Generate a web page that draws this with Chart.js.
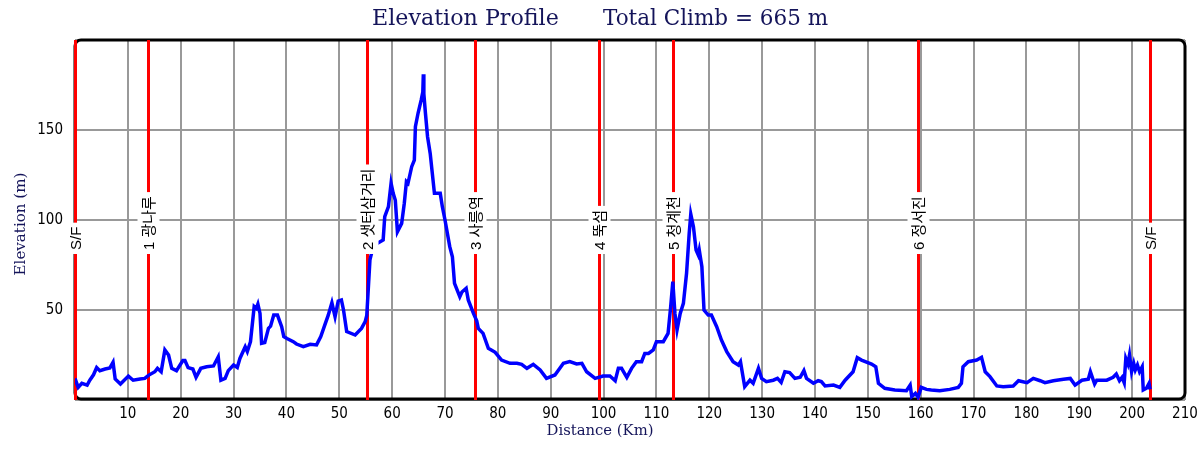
<!DOCTYPE html>
<html>
<head>
<meta charset="utf-8">
<script src="https://cdn.jsdelivr.net/npm/chart.js@4/dist/chart.umd.min.js"></script>
<style>
  html, body { margin: 0; padding: 0; background: #fff; }
  #wrap { width: 1200px; height: 450px; }
</style>
</head>
<body>
<div id="wrap"><canvas id="profil" width="1200" height="450"></canvas></div>
<script>
// distance (km) and elevation (m)
const distKm = [
  0, 0.6, 1.3, 2.3, 2.8, 3.5, 4.1, 4.7, 5.7, 6.6, 7.2, 7.6, 8.6, 10.1, 11.0, 12.3, 13.2, 13.9,
  15.1, 15.6, 16.3, 17.0, 17.7, 18.3, 19.2, 20.4, 20.8, 21.4, 22.3, 22.9, 23.8, 24.9, 26.2, 27.1,
  27.6, 28.4, 29.0, 30.0, 30.7, 31.2, 32.2, 32.6, 33.2, 33.9, 34.3, 34.6, 35.0, 35.3, 35.9, 36.6,
  37.0, 37.6, 38.3, 39.1, 39.5, 40.1, 41.3, 41.9, 43.2, 44.5, 45.7, 46.5, 47.3, 47.9, 48.6, 49.2,
  49.8, 50.4, 50.8, 51.4, 53.0, 54.2, 54.9, 55.2, 55.8, 56.4, 57.4, 58.3, 58.6, 59.3, 59.8, 60.2,
  60.6, 61.0, 61.8, 62.3, 62.7, 63.0, 63.7, 64.2, 64.4, 64.9, 65.5, 65.8, 65.9, 66.0, 66.3, 66.7,
  67.2, 67.6, 68.0, 69.1, 69.5, 70.0, 70.9, 71.4, 71.8, 72.8, 73.2, 74.0, 74.4, 75.4, 76.0, 76.3,
  77.2, 78.2, 79.5, 80.7, 82.3, 83.6, 84.5, 85.5, 86.7, 88.0, 89.2, 90.8, 92.4, 93.6, 94.9, 95.9,
  96.8, 98.4, 99.9, 101.2, 102.2, 102.8, 103.4, 104.4, 105.3, 106.2, 107.2, 107.8, 108.5, 109.4,
  110.0, 111.3, 112.2, 112.7, 113.1, 113.5, 113.9, 114.5, 115.1, 115.7, 116.2, 116.5, 117.0, 117.5,
  117.9, 118.1, 118.6, 119.0, 119.8, 120.4, 121.4, 122.3, 123.3, 124.5, 125.5, 125.9, 126.7, 127.7,
  128.3, 129.3, 129.9, 130.8, 132.1, 132.9, 133.6, 134.3, 135.2, 136.2, 137.2, 137.9, 138.4, 139.7,
  140.6, 141.2, 141.9, 143.5, 144.7, 145.7, 147.2, 148.0, 148.8, 150.7, 151.5, 152.0, 153.2, 155.1,
  157.3, 158.0, 158.3, 159.0, 159.5, 160.1, 161.1, 162.0, 163.6, 165.5, 167.1, 167.7, 168.0, 169.0,
  170.6, 171.5, 172.2, 173.1, 174.4, 175.6, 177.5, 178.5, 180.1, 181.3, 182.6, 183.5, 185.1, 187.0,
  188.3, 189.2, 190.5, 191.7, 192.1, 192.9, 193.3, 195.2, 196.4, 197.0, 197.6, 198.1, 198.5, 198.8,
  199.2, 199.5, 199.9, 200.3, 200.6, 201.0, 201.4, 201.9, 202.1, 202.7, 203.2, 203.4
];
const elevM = [
  12, 7, 9.3, 8.3, 11, 14, 18, 16.3, 17.2, 17.8, 21, 11.7, 8.9, 13.3, 11, 11.7, 12, 13.7,
  15.7, 17.6, 15.7, 27.8, 25, 17.6, 16.3, 21.9, 21.9, 18, 17.2, 12.6, 17.6, 18.5, 18.9, 24,
  11, 12, 16.3, 19.4, 18.1, 23.1, 29.6, 26.9, 32.4, 51.9, 50.9, 53.3, 48.1, 31.5, 31.9, 39.8,
  41, 47.2, 47.2, 40.7, 35.2, 34.2, 32.4, 31.1, 29.6, 30.9, 30.6, 35.2, 42, 47, 54, 46.3,
  55, 55.6, 50, 38, 36.1, 39.8, 43.5, 47, 77.8, 85.2, 87.4, 88.9, 101.9, 107.4, 120.4, 114.8,
  111, 93.5, 98.1, 109.3, 121.3, 120.4, 129.6, 133.3, 151.9, 159.3, 166.7, 171, 181, 170, 159.3, 146.3,
  137, 125.9, 114.8, 114.8, 107.4, 100, 85.2, 79.6, 64.8, 57.4, 60, 62, 55.6, 48, 44, 39.8,
  37, 28.7, 26.5, 22.2, 20.4, 20.4, 19.8, 17.6, 19.8, 16.7, 12, 13.9, 20.4, 21.3, 20, 20.4,
  15.7, 12, 13.3, 13.3, 10.7, 17.6, 17.6, 12.6, 17.6, 21.3, 21.3, 25.9, 25.9, 27.8,
  32.4, 32.4, 37, 51.9, 65.7, 48.1, 38.9, 48.1, 53.7, 70.4, 92.6, 103.3, 96.3, 83.3,
  80.6, 83.3, 74, 50, 47.2, 47.2, 40.7, 33.3, 26.9, 21.3, 19.4, 21.3, 7.4, 11,
  9.3, 17.6, 12, 10.2, 11, 12, 9.8, 15.7, 15.2, 12, 12.6, 16.3, 12, 9.3,
  10.7, 10.2, 7.8, 8.3, 7, 11, 15.7, 23.5, 22.2, 20, 18.5, 9.3, 6.5, 5.6,
  5.2, 8.3, 1.9, 3.7, 1.5, 7, 5.9, 5.6, 5.2, 5.9, 7, 9.3, 18.5, 21.3,
  22.2, 23.7, 15.7, 13, 7.8, 7.4, 7.8, 10.7, 9.6, 12, 10.7, 9.6, 10.7, 11.5,
  12, 8.3, 11, 11.5, 15.7, 8.9, 11, 11, 12.6, 14.4, 10.7, 12.6, 9.6, 23.1,
  20, 25, 15.7, 20.4, 16.7, 19.4, 15.7, 18.5, 5.6, 6.5, 9.3, 5.9
];

// checkpoints (red lines)
const pointsKm = [0, 13.8, 55.3, 75.7, 99.1, 113.2, 159.5, 203.3];
const pointsNom = ['S/F', '1 광나루', '2 샛터삼거리', '3 사릉역', '4 뚝섬', '5 청계천', '6 정서진', 'S/F'];

const titreGauche = 'Elevation Profile';
const titreDroite = 'Total Climb = 665 m';
const titreX = 'Distance (Km)';
const titreY = 'Elevation (m)';

document.addEventListener('DOMContentLoaded', () => {
    const canvas = document.getElementById('profil');
    const navy = '#14145a';

    // fit a serif font to a target width
    function fitFont(ctx, text, width, family) {
        ctx.font = '20px ' + family;
        const w = ctx.measureText(text).width;
        return (20 * width / w).toFixed(1) + 'px ' + family;
    }

    const decorPlugin = {
        id: 'decor',
        beforeDatasetsDraw(chart) {
            const ctx = chart.ctx;
            const a = chart.chartArea;
            const x = chart.scales.x;
            ctx.save();
            // frame
            ctx.strokeStyle = '#000';
            ctx.lineWidth = 3;
            ctx.beginPath();
            ctx.roundRect(a.left, a.top, a.right - a.left, a.bottom - 1 - a.top, 6);
            ctx.stroke();
            // red checkpoint lines
            ctx.strokeStyle = '#ff0000';
            ctx.lineWidth = 3;
            pointsKm.forEach(km => {
                const px = Math.round(x.getPixelForValue(km)) + 0.5;
                ctx.beginPath();
                ctx.moveTo(px, a.top);
                ctx.lineTo(px, a.bottom);
                ctx.stroke();
            });
            ctx.restore();
        },
        afterDatasetsDraw(chart) {
            const ctx = chart.ctx;
            const x = chart.scales.x;
            ctx.save();
            ctx.font = '15px "Liberation Sans", "Noto Sans CJK KR", sans-serif';
            ctx.textBaseline = 'middle';
            ctx.textAlign = 'left';
            pointsKm.forEach((km, i) => {
                const px = Math.round(x.getPixelForValue(km)) + 0.5;
                const w = ctx.measureText(pointsNom[i]).width;
                const bas = 254;
                ctx.fillStyle = '#fff';
                ctx.fillRect(px - 11, bas - w - 8, 22, w + 8);
                ctx.save();
                ctx.translate(px, bas - 4);
                ctx.rotate(-Math.PI / 2);
                ctx.fillStyle = '#000';
                ctx.fillText(pointsNom[i], 0, 1);
                ctx.restore();
            });
            ctx.restore();
        },
        afterDraw(chart) {
            const ctx = chart.ctx;
            ctx.save();
            ctx.fillStyle = navy;
            ctx.textBaseline = 'middle';
            ctx.textAlign = 'left';
            ctx.font = fitFont(ctx, titreGauche, 187, '"DejaVu Serif"');
            ctx.fillText(titreGauche, 372, 19);
            ctx.font = fitFont(ctx, titreDroite, 225, '"DejaVu Serif"');
            ctx.fillText(titreDroite, 603, 19);

            ctx.textAlign = 'center';
            ctx.font = fitFont(ctx, titreX, 107, '"DejaVu Serif"');
            ctx.fillText(titreX, 600, 431);

            ctx.translate(21, 224);
            ctx.rotate(-Math.PI / 2);
            ctx.font = fitFont(ctx, titreY, 103, '"DejaVu Serif"');
            ctx.fillText(titreY, 0, 0);
            ctx.restore();
        }
    };

    const donnees = distKm.map((d, i) => ({ x: d, y: elevM[i] }));

    new Chart(canvas, {
        type: 'scatter',
        data: {
            datasets: [{
                data: donnees,
                showLine: true,
                borderColor: '#0000ff',
                borderWidth: 3.5,
                pointRadius: 0,
                tension: 0,
                fill: false
            }]
        },
        options: {
            responsive: false,
            animation: false,
            devicePixelRatio: 1,
            layout: { padding: { top: 40, right: 15, left: 0, bottom: 0 } },
            plugins: {
                legend: { display: false },
                tooltip: { enabled: false },
                title: { display: false }
            },
            scales: {
                x: {
                    type: 'linear',
                    min: 0,
                    max: 210,
                    afterFit: s => { s.height = 50; s.paddingLeft = 0; s.paddingRight = 0; },
                    border: { display: false },
                    grid: { color: '#999', lineWidth: 2, drawTicks: false },
                    ticks: {
                        stepSize: 10,
                        autoSkip: false,
                        maxRotation: 0,
                        padding: 5,
                        color: '#000',
                        font: { family: '"DejaVu Sans Condensed", "DejaVu Sans"', size: 15 },
                        callback: v => (v === 0 ? '' : v)
                    }
                },
                y: {
                    min: 0,
                    max: 200,
                    afterFit: s => { s.width = 75; s.paddingTop = 0; s.paddingBottom = 0; },
                    border: { display: false },
                    grid: { color: '#999', lineWidth: 2, drawTicks: false },
                    ticks: {
                        stepSize: 50,
                        padding: 12,
                        color: '#000',
                        font: { family: '"DejaVu Sans Condensed", "DejaVu Sans"', size: 15 },
                        callback: v => (v === 0 || v === 200 ? '' : v)
                    }
                }
            }
        },
        plugins: [decorPlugin]
    });
});
</script>
</body>
</html>
